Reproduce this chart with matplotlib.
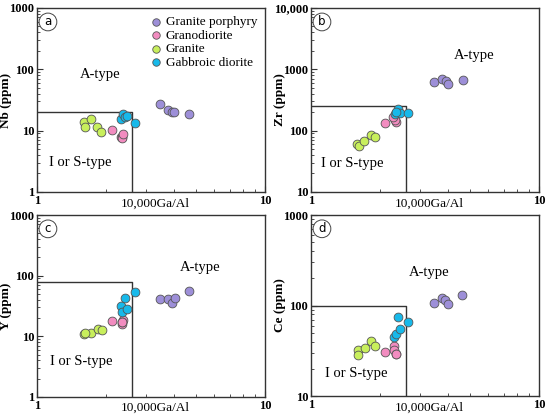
import numpy as np
import matplotlib
matplotlib.use("Agg")
import matplotlib.pyplot as plt
from matplotlib.ticker import LogLocator, FuncFormatter, NullFormatter

plt.rcParams['font.family'] = ['Liberation Serif', 'DejaVu Serif']

groups = ['Granite porphyry', 'Granodiorite', 'Granite', 'Gabbroic diorite']
colors = ['#9d8fd8', '#f28cc0', '#c8ef5c', '#17b9ea']

# 10000Ga/Al and element values
nb = {
    'Granite porphyry': [26.9, 21.7, 20.2, 19.9, 18.7],
    'Granodiorite': [10.2, 7.8, 8.0, 7.6, 8.9],
    'Granite': [13.6, 11.3, 15.7, 11.3, 9.5],
    'Gabbroic diorite': [15.7, 18.4, 16.9, 17.5, 13.5],
}
nb_x = {
    'Granite porphyry': [3.47, 3.74, 3.92, 3.99, 4.63],
    'Granodiorite': [2.13, 2.34, 2.36, 2.35, 2.39],
    'Granite': [1.60, 1.62, 1.72, 1.84, 1.91],
    'Gabbroic diorite': [2.33, 2.38, 2.43, 2.47, 2.69],
}

zr = {
    'Granite porphyry': [624, 689, 647, 578, 664],
    'Granodiorite': [133, 159, 140, 150, 165],
    'Granite': [60, 57, 68, 85, 80],
    'Gabbroic diorite': [228, 184, 191, 200, 191],
}
zr_x = {
    'Granite porphyry': [3.47, 3.75, 3.91, 3.99, 4.63],
    'Granodiorite': [2.12, 2.31, 2.35, 2.33, 2.30],
    'Granite': [1.59, 1.62, 1.71, 1.83, 1.91],
    'Gabbroic diorite': [2.40, 2.33, 2.45, 2.36, 2.67],
}

yy = {
    'Granite porphyry': [41.8, 41.8, 35.4, 42.8, 55.9],
    'Granodiorite': [17.9, 18.8, 16.2, 17.0, 17.5],
    'Granite': [11.1, 11.4, 13.4, 12.6, 11.2],
    'Gabbroic diorite': [42.3, 31.6, 25.2, 28.6, 54.5],
}
yy_x = {
    'Granite porphyry': [3.48, 3.75, 3.92, 4.01, 4.63],
    'Granodiorite': [2.14, 2.39, 2.36, 2.37, 2.35],
    'Granite': [1.61, 1.72, 1.85, 1.93, 1.62],
    'Gabbroic diorite': [2.42, 2.33, 2.37, 2.48, 2.69],
}

ce = {
    'Granite porphyry': [108, 120, 116, 105, 131],
    'Granodiorite': [30.3, 35.9, 32.2, 29.0, 28.8],
    'Granite': [32.2, 28.3, 33.6, 41.1, 35.6],
    'Gabbroic diorite': [75, 44.8, 49.1, 54.8, 65.5],
}
ce_x = {
    'Granite porphyry': [3.47, 3.74, 3.87, 3.99, 4.60],
    'Granodiorite': [2.12, 2.31, 2.32, 2.35, 2.37],
    'Granite': [1.60, 1.61, 1.72, 1.84, 1.91],
    'Gabbroic diorite': [2.40, 2.32, 2.36, 2.46, 2.67],
}

panels = [
    ('a', 'Nb (ppm)', nb_x, nb, (1, 1000), 20, (0.276, 0.641), (0.189, 0.158)),
    ('b', 'Zr (ppm)', zr_x, zr, (10, 10000), 250, (0.715, 0.739), (0.18, 0.152)),
    ('c', 'Y (ppm)', yy_x, yy, (1, 1000), 80, (0.716, 0.714), (0.192, 0.192)),
    ('d', 'Ce (ppm)', ce_x, ce, (10, 1000), 100, (0.518, 0.685), (0.197, 0.127)),
]
ga_limit = 2.6

positions = [
    [0.0673, 0.543, 0.4145, 0.438],
    [0.5655, 0.543, 0.4145, 0.438],
    [0.0673, 0.055, 0.4145, 0.433],
    [0.5655, 0.057, 0.4145, 0.431],
]

fig = plt.figure(figsize=(5.5, 4.2), dpi=100)

def fmt(v, pos):
    v = int(round(v))
    if v >= 10000:
        return f'{v:,}'
    return str(v)

for p_i, (letter, ylab, xs, ys, ylim, ybound, a_pos, i_pos) in enumerate(panels):
    ax = fig.add_axes(positions[p_i])
    ax.set_xscale('log')
    ax.set_yscale('log')
    ax.set_xlim(1, 10)
    ax.set_ylim(*ylim)

    ax.plot([1, ga_limit, ga_limit], [ybound, ybound, ylim[0]], color='#333333', lw=1.0)

    for g_i, g in enumerate(groups):
        ax.scatter(xs[g], ys[g], s=40, color=colors[g_i], edgecolor='#555555',
                   linewidth=0.6, zorder=3, label=g)

    ax.text(a_pos[0], a_pos[1], 'A-type', transform=ax.transAxes, fontsize=10.5,
            ha='center', va='center')
    ax.text(i_pos[0], i_pos[1], 'I or S-type', transform=ax.transAxes, fontsize=10.5,
            ha='center', va='center')
    ax.text(0.048, 0.924, letter, transform=ax.transAxes, fontsize=8.5,
            family='DejaVu Sans', ha='center', va='center',
            bbox=dict(boxstyle='circle,pad=0.2', fc='white', ec='#444444', lw=0.7))

    ax.xaxis.set_major_locator(LogLocator(base=10, numticks=5))
    ax.xaxis.set_major_formatter(FuncFormatter(fmt))
    ax.xaxis.set_minor_locator(LogLocator(base=10, subs=np.arange(2, 10), numticks=5))
    ax.xaxis.set_minor_formatter(NullFormatter())
    ax.yaxis.set_major_locator(LogLocator(base=10, numticks=6))
    ax.yaxis.set_major_formatter(FuncFormatter(fmt))
    ax.yaxis.set_minor_locator(LogLocator(base=10, subs=np.arange(2, 10), numticks=6))
    ax.yaxis.set_minor_formatter(NullFormatter())
    ax.tick_params(which='both', direction='in', top=False, right=False,
                   labelsize=9, color='#333333')
    ax.tick_params(which='major', length=4, width=0.8, pad=2)
    ax.tick_params(which='minor', length=2.5, width=0.6)
    for lbl in ax.get_xticklabels() + ax.get_yticklabels():
        lbl.set_fontweight('bold')
    for sp in ax.spines.values():
        sp.set_linewidth(1.0)
        sp.set_color('#333333')

    ax.set_ylabel(ylab, fontsize=9.5, fontweight='bold')
    ax.yaxis.set_label_coords(-0.11, 0.5)
    ax.text(0.52, -0.062, '10,000Ga/Al', transform=ax.transAxes, fontsize=9.5,
            ha='center', va='center')

    if letter == 'a':
        ax.legend(loc='upper right', frameon=False, fontsize=9.5, handletextpad=0.1,
                  labelspacing=0.1, borderaxespad=0.2, markerscale=0.85,
                  handlelength=1.2)

fig.savefig('out.png', dpi=100)
